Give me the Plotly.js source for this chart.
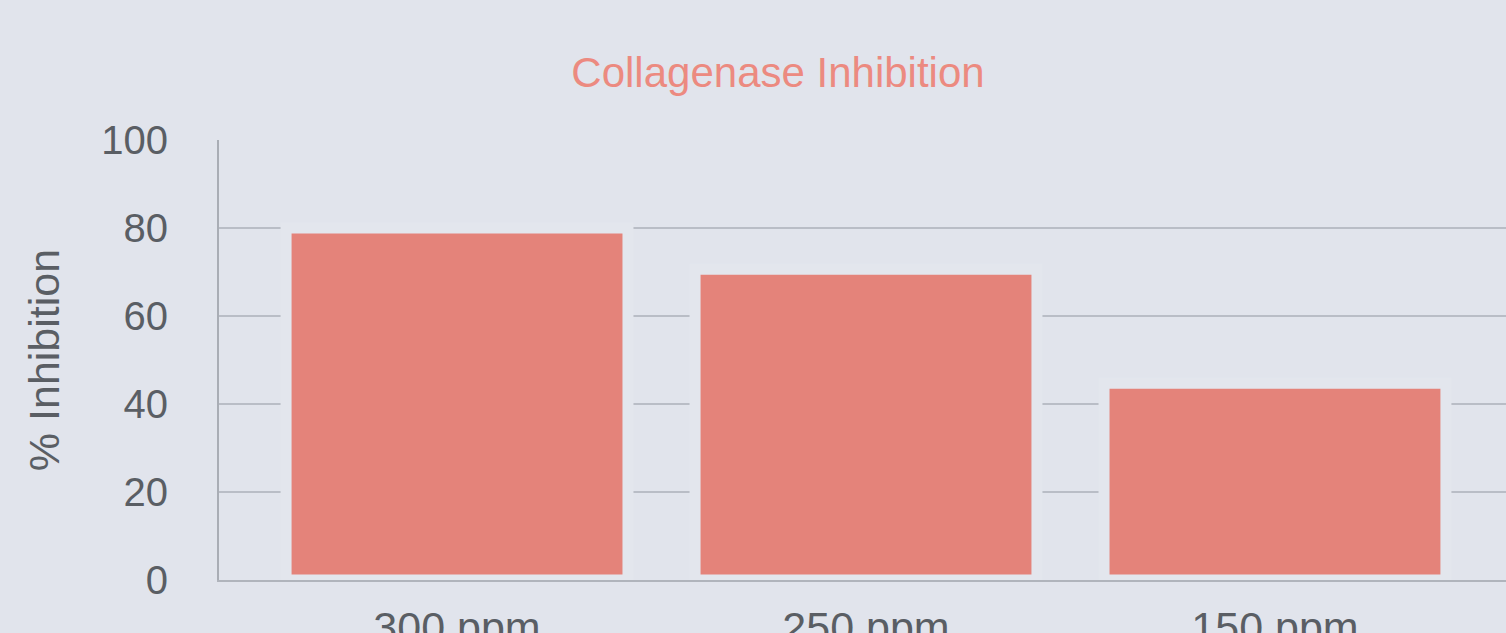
<!DOCTYPE html>
<html>
<head>
<meta charset="utf-8">
<script src="https://cdn.plot.ly/plotly-3.0.1.min.js"></script>
<style>
  html, body { margin: 0; padding: 0; overflow: hidden; background: #e1e4ec; }
  #chart { width: 1560px; height: 680px; }
</style>
</head>
<body>
<div id="chart"></div>
<script>
const categories = ["300 ppm", "250 ppm", "150 ppm"];
const inhibition = [80, 70.6, 44.7];
const yTickValues = [0, 20, 40, 60, 80, 100];

const bg = "#e1e4ec";
const font = "'Liberation Sans', Arial, Helvetica, sans-serif";

const trace = {
  type: "bar",
  x: [0, 1, 2],
  y: inhibition,
  width: 0.836,
  marker: { color: "#e4837a", line: { color: "#e3e6ed", width: 11 } },
  hoverinfo: "skip"
};

const layout = {
  width: 1560,
  height: 680,
  paper_bgcolor: bg,
  plot_bgcolor: bg,
  margin: { l: 219, r: 47, t: 140, b: 100, pad: 0 },
  showlegend: false,
  title: {
    text: "Collagenase Inhibition",
    font: { family: font, size: 42, color: "#ec8a80" },
    xref: "container", x: 778 / 1560, xanchor: "center",
    yref: "container", y: 1 - 72 / 680, yanchor: "middle"
  },
  xaxis: {
    range: [-0.582, 2.582],
    tickmode: "array",
    tickvals: [0, 1, 2],
    ticktext: categories,
    showgrid: false,
    zeroline: false,
    showline: true,
    linecolor: "#b0b4bc",
    linewidth: 2,
    ticks: "",
    ticklabelstandoff: 8,
    tickfont: { family: font, size: 43, color: "#5a5e64" }
  },
  yaxis: {
    range: [0, 100],
    tickmode: "array",
    tickvals: yTickValues,
    ticktext: yTickValues.map(String),
    showgrid: true,
    gridcolor: "#b9bdc6",
    gridwidth: 2,
    zeroline: false,
    showline: true,
    linecolor: "#a9adb5",
    linewidth: 2,
    ticks: "",
    ticklabelstandoff: 41,
    tickfont: { family: font, size: 40, color: "#5a5e64" },
    title: {
      text: "% Inhibition",
      font: { family: font, size: 43, color: "#5a5e64" },
      standoff: 28
    },
    automargin: false
  }
};

Plotly.newPlot("chart", [trace], layout, { displayModeBar: false, staticPlot: true });
</script>
</body>
</html>
